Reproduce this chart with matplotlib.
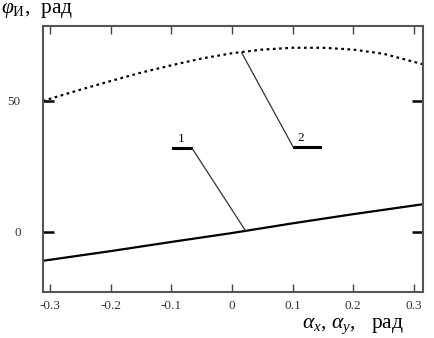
import matplotlib
matplotlib.use("Agg")
import matplotlib.pyplot as plt
import numpy as np

# Curve 1 (solid)
x1 = [-0.312, -0.2, -0.1, 0.0, 0.1, 0.2, 0.315]
y1 = [-11.0, -7.3, -3.8, -0.4, 3.3, 6.8, 10.6]
# Curve 2 (dotted)
x2 = [-0.312, -0.25, -0.2, -0.15, -0.1, -0.05, 0.0, 0.05, 0.1, 0.15, 0.2, 0.25, 0.315]
y2 = [50.0, 54.3, 57.6, 60.8, 63.6, 66.2, 68.2, 69.6, 70.3, 70.3, 69.6, 68.0, 64.0]

xticks = [-0.3, -0.2, -0.1, 0, 0.1, 0.2, 0.3]
xticklabels = ["-0.3", "-0.2", "-0.1", "0", "0.1", "0.2", "0.3"]
yticks = [0, 50]
yticklabels = ["0", "50"]

plt.rcParams['font.family'] = ['Liberation Serif', 'DejaVu Serif']
plt.rcParams['mathtext.fontset'] = 'custom'
plt.rcParams['mathtext.it'] = 'Liberation Serif:italic'
plt.rcParams['mathtext.rm'] = 'Liberation Serif'

fig = plt.figure(figsize=(4.34, 3.38), dpi=100)
ax = fig.add_axes([43/434, 1-292/338, 380/434, 266/338])

ax.plot(x1, y1, color='black', lw=1.6)
ax.plot(x2, y2, color='black', lw=1.6, linestyle=(0, (1.2, 1.6)))

ax.set_xlim(-0.3116, 0.315)
ax.set_ylim(-22.9, 78.6)

ax.set_xticks(xticks)
ax.set_xticklabels(xticklabels, fontsize=9.5, color='#333333')
ax.set_yticks(yticks)
ax.set_yticklabels(yticklabels, fontsize=9.5, color='#333333')
ax.tick_params(axis='x', direction='in', top=True, bottom=True, length=6, width=1.0, color='#444444', pad=6)
ax.tick_params(axis='y', direction='in', left=True, right=True, length=8, width=1.8, color='black', pad=16)

for s in ax.spines.values():
    s.set_color('#555555')
    s.set_linewidth(1.5)

# annotations
ax.plot([-0.0975, -0.068], [32.0, 32.0], color='black', lw=2.2)
ax.plot([-0.066, 0.022], [32.0, 0.6], color='#333333', lw=0.9)
ax.text(-0.083, 33.3, "1", fontsize=9.5, ha='center', va='bottom')

ax.plot([0.103, 0.145], [32.4, 32.4], color='black', lw=2.2)
ax.plot([0.101, 0.016], [32.4, 68.4], color='#333333', lw=0.9)
ax.text(0.114, 33.6, "2", fontsize=9.5, ha='center', va='bottom')

fig.text(1/434, 1-10/338, r"$\varphi_{\mathrm{И}}$,  рад", fontsize=15.5, ha='left', va='center')
fig.text(404/434, 1-326/338, r"$\alpha_x$, $\alpha_y$,   рад", fontsize=15.5, ha='right', va='center')

fig.savefig("out.png", dpi=100)
